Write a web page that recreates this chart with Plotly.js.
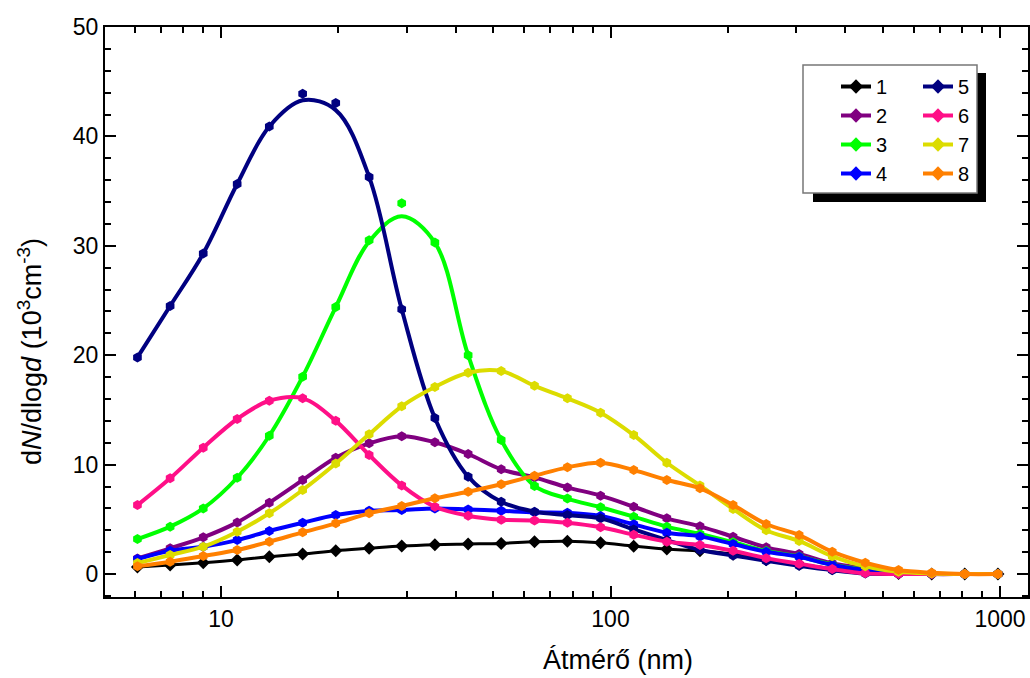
<!DOCTYPE html>
<html>
<head>
<meta charset="utf-8">
<script src="https://cdn.plot.ly/plotly-3.0.1.min.js"></script>
<style>html,body{margin:0;padding:0;background:#fff}#chart{width:1030px;height:678px}</style>
</head>
<body>
<div id="chart"></div>
<script>
// Diameters (nm)
const diam = [6.1, 7.4, 9.0, 11.0, 13.3, 16.2, 19.7, 24.0, 29.1, 35.4, 43.1, 52.4, 63.8, 77.5, 94.3, 114.7, 139.5, 169.7, 206.4, 251, 305, 371, 451, 549, 668, 812, 988];

// dN/dlogd (10^3 cm^-3)
const s1 = [0.65, 0.82, 1.03, 1.28, 1.58, 1.83, 2.13, 2.35, 2.56, 2.68, 2.74, 2.8, 2.95, 3.0, 2.85, 2.55, 2.28, 2.12, 1.8, 1.3, 0.9, 0.5, 0.2, 0.05, 0, 0, 0];
const s2 = [1.43, 2.35, 3.35, 4.72, 6.52, 8.59, 10.63, 11.95, 12.6, 12.04, 10.97, 9.57, 8.83, 7.92, 7.16, 6.15, 5.09, 4.36, 3.41, 2.44, 1.83, 0.98, 0.52, 0.15, 0, 0, 0];
const s3 = [3.2, 4.33, 6.0, 8.8, 12.64, 18.04, 24.4, 30.5, 33.9, 30.3, 20.0, 12.25, 8.05, 6.9, 6.1, 5.24, 4.33, 3.66, 2.9, 2.1, 1.6, 0.85, 0.4, 0.05, 0, 0, 0];
const s4 = [1.37, 2.13, 2.5, 3.1, 3.93, 4.69, 5.39, 5.79, 5.85, 6.0, 5.9, 5.78, 5.64, 5.6, 5.3, 4.54, 3.78, 3.44, 2.74, 2.04, 1.58, 0.82, 0.37, 0.05, 0, 0, 0];
const s5 = [19.8, 24.5, 29.3, 35.65, 40.9, 43.9, 43.05, 36.3, 24.2, 14.26, 8.9, 6.6, 5.7, 5.39, 5.09, 4.08, 3.1, 2.19, 1.7, 1.2, 0.75, 0.35, 0.05, 0, 0, 0, 0];
const s6 = [6.3, 8.75, 11.55, 14.17, 15.84, 16.06, 14.0, 10.88, 8.1, 6.15, 5.33, 4.97, 4.9, 4.68, 4.27, 3.6, 2.96, 2.65, 2.12, 1.45, 0.95, 0.45, 0.06, 0, 0, 0, 0];
const s7 = [1.0, 1.74, 2.5, 3.87, 5.55, 7.68, 10.1, 12.77, 15.33, 17.1, 18.4, 18.55, 17.2, 16.06, 14.75, 12.7, 10.17, 8.1, 5.95, 4.0, 3.02, 1.62, 0.7, 0.2, 0.05, 0, 0];
const s8 = [0.7, 1.13, 1.65, 2.19, 2.95, 3.81, 4.63, 5.55, 6.22, 6.92, 7.52, 8.2, 8.99, 9.75, 10.17, 9.5, 8.59, 7.83, 6.3, 4.57, 3.56, 2.04, 1.03, 0.37, 0.12, 0, 0];

// fitted curves for series 3 and 5
const fit3 = [3.2, 4.33, 6.0, 8.8, 12.64, 18.04, 24.4, 30.4, 32.7, 30.3, 20.0, 12.25, 8.05, 6.9, 6.1, 5.24, 4.33, 3.66, 2.9, 2.1, 1.6, 0.85, 0.4, 0.05, 0, 0, 0];
const fit5 = [19.8, 24.5, 29.3, 35.65, 40.9, 43.3, 42.4, 36.3, 24.2, 14.26, 8.9, 6.6, 5.7, 5.39, 5.09, 4.08, 3.1, 2.19, 1.7, 1.2, 0.75, 0.35, 0.05, 0, 0, 0, 0];

const names = ['1', '2', '3', '4', '5', '6', '7', '8'];
const colors = ['#000000', '#800080', '#00FF00', '#0000FF', '#000080', '#FF0F87', '#DCDC00', '#FF8000'];
const values = [s1, s2, s3, s4, s5, s6, s7, s8];
const fits = {2: fit3, 4: fit5};

const xTitle = 'Átmérő (nm)';
const yTitle = 'd<i>N</i>/dlog<i>d</i> (10<sup>3</sup>cm<sup>-3</sup>)';

const traces = [];
values.forEach((v, i) => {
  const c = colors[i];
  const lw = i === 0 ? 3 : 4;
  const sym = i === 0 ? 'diamond' : 'hexagon';
  if (fits[i]) {
    traces.push({x: diam, y: fits[i], type: 'scatter', mode: 'lines',
      line: {color: c, width: lw, shape: 'spline', smoothing: 1},
      showlegend: false, hoverinfo: 'skip'});
    traces.push({x: diam, y: v, type: 'scatter', mode: 'markers',
      marker: {color: c, size: 10, symbol: sym},
      showlegend: false, hoverinfo: 'skip'});
  } else {
    traces.push({x: diam, y: v, type: 'scatter', mode: 'lines+markers',
      line: {color: c, width: lw, shape: 'spline', smoothing: 1},
      marker: {color: c, size: 10, symbol: sym},
      showlegend: false, hoverinfo: 'skip'});
  }
});
// legend entries
values.forEach((v, i) => {
  traces.push({x: [null], y: [null], type: 'scatter', mode: 'lines+markers', name: names[i],
    line: {color: colors[i], width: 4},
    marker: {color: colors[i], size: 11, symbol: 'diamond'},
    legend: i < 4 ? 'legend' : 'legend2', showlegend: true});
});

const fontFam = 'Liberation Sans, Arial, sans-serif';
const L = 105, T = 27, W = 923, H = 570;
const px = x => (x - L) / W;
const py = y => (T + H - y) / H;

const layout = {
  width: 1030, height: 678,
  margin: {l: L, r: 1030 - L - W, t: T, b: 678 - T - H, pad: 0},
  paper_bgcolor: '#fff', plot_bgcolor: '#fff',
  font: {family: fontFam, color: '#000', size: 23},
  showlegend: true,
  xaxis: {
    type: 'log', range: [0.702, 3.072],
    tickvals: [10, 100, 1000], ticktext: ['10', '100', '1000'],
    ticks: 'inside', ticklen: 11, tickwidth: 2, tickcolor: '#000',
    minor: {dtick: 'D1', ticks: 'inside', ticklen: 6, tickwidth: 2, tickcolor: '#000', showgrid: false},
    showline: true, linewidth: 2, linecolor: '#000', mirror: 'ticks',
    showgrid: false, zeroline: false,
    tickfont: {size: 23, family: fontFam}
  },
  yaxis: {
    range: [-2.1, 50], tickvals: [0, 10, 20, 30, 40, 50],
    ticks: 'inside', ticklen: 11, tickwidth: 2, tickcolor: '#000',
    minor: {dtick: 2, ticks: 'inside', ticklen: 6, tickwidth: 2, tickcolor: '#000', showgrid: false},
    showline: true, linewidth: 2, linecolor: '#000', mirror: 'ticks',
    showgrid: false, zeroline: false,
    tickfont: {size: 23, family: fontFam}
  },
  legend: {x: px(836), y: py(67), xanchor: 'left', yanchor: 'top', bgcolor: 'rgba(0,0,0,0)',
    borderwidth: 0, font: {size: 20, family: fontFam}, tracegroupgap: 0},
  legend2: {x: px(918), y: py(67), xanchor: 'left', yanchor: 'top', bgcolor: 'rgba(0,0,0,0)',
    borderwidth: 0, font: {size: 20, family: fontFam}, tracegroupgap: 0},
  annotations: [
    {text: xTitle, xref: 'paper', yref: 'paper', x: px(618), y: py(660), xanchor: 'center', yanchor: 'middle',
      showarrow: false, font: {size: 27, family: fontFam}},
    {text: yTitle, xref: 'paper', yref: 'paper', x: px(30), y: py(352), xanchor: 'center', yanchor: 'middle',
      textangle: -90, showarrow: false, font: {size: 27, family: fontFam}}
  ],
  shapes: [
    {type: 'rect', xref: 'paper', yref: 'paper', x0: px(813), x1: px(986), y0: py(202), y1: py(73),
      fillcolor: '#000', line: {width: 0}, layer: 'above'},
    {type: 'rect', xref: 'paper', yref: 'paper', x0: px(803), x1: px(977), y0: py(193), y1: py(65),
      fillcolor: '#fff', line: {color: '#777', width: 1.5}, layer: 'above'}
  ]
};

Plotly.newPlot('chart', traces, layout, {displayModeBar: false, staticPlot: true});
</script>
</body>
</html>
